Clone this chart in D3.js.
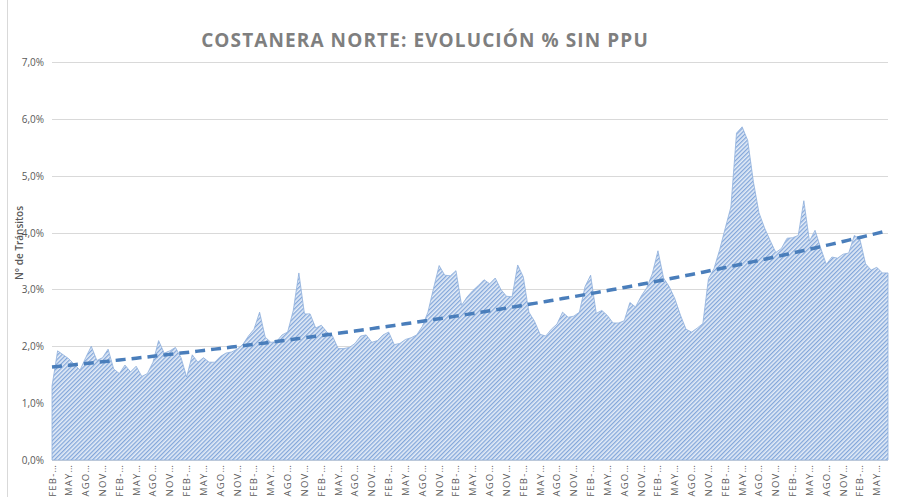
<!DOCTYPE html>
<html>
<head>
<meta charset="utf-8">
<script src="https://cdn.jsdelivr.net/npm/d3@7"></script>
<style>
  body { margin: 0; background: #fff; }
  text { font-family: "Open Sans", "DejaVu Sans", sans-serif; }
</style>
</head>
<body>
<svg id="chart"></svg>
<script>
// monthly share (%) from FEB of the first year on
var values = [
  1.30, 1.92, 1.85, 1.78, 1.68, 1.58, 1.80, 2.00, 1.75, 1.80,
  1.95, 1.60, 1.52, 1.67, 1.55, 1.65, 1.47, 1.52, 1.72, 2.10,
  1.88, 1.92, 1.98, 1.80, 1.46, 1.85, 1.72, 1.80, 1.72, 1.72,
  1.82, 1.88, 1.90, 1.95, 2.03, 2.18, 2.30, 2.60, 2.16, 2.07,
  2.08, 2.20, 2.25, 2.63, 3.29, 2.57, 2.57, 2.32, 2.37, 2.25,
  2.18, 1.96, 1.96, 1.98, 2.05, 2.18, 2.20, 2.07, 2.10, 2.20,
  2.25, 2.03, 2.05, 2.12, 2.15, 2.20, 2.35, 2.60, 3.02, 3.42,
  3.25, 3.24, 3.33, 2.72, 2.87, 2.98, 3.07, 3.17, 3.10, 3.20,
  3.00, 2.88, 2.87, 3.43, 3.22, 2.60, 2.44, 2.21, 2.18, 2.30,
  2.39, 2.60, 2.51, 2.53, 2.60, 3.05, 3.25, 2.58, 2.63, 2.54,
  2.41, 2.41, 2.45, 2.77, 2.69, 2.88, 3.03, 3.28, 3.68, 3.20,
  3.05, 2.84, 2.55, 2.30, 2.25, 2.32, 2.40, 3.19, 3.37, 3.70,
  4.08, 4.45, 5.75, 5.86, 5.62, 4.90, 4.35, 4.08, 3.86, 3.65,
  3.72, 3.90, 3.91, 3.95, 4.56, 3.85, 4.04, 3.73, 3.44, 3.57,
  3.55, 3.62, 3.64, 3.95, 3.88, 3.45, 3.34, 3.39, 3.29, 3.29
];
// every third month gets a (truncated) label
var tickCycle = ["FEB-…", "MAY…", "AGO…", "NOV…"];
var yTicks = [0, 1, 2, 3, 4, 5, 6, 7];

var title = "COSTANERA NORTE: EVOLUCIÓN % SIN PPU";
var yTitle = "N° de Tránsitos";

var width = 898, height = 497;
var svg = d3.select("#chart").attr("width", width).attr("height", height);

var idx = d3.range(values.length);
var x = d3.scalePoint().domain(idx).range([52, 888]);
var y = d3.scaleLinear().domain([0, 7]).range([460, 62]);

// hatch pattern
var defs = svg.append("defs");
var pat = defs.append("pattern")
  .attr("id", "hatch")
  .attr("patternUnits", "userSpaceOnUse")
  .attr("width", 3).attr("height", 3)
  .attr("patternTransform", "rotate(45)");
pat.append("rect").attr("width", 3).attr("height", 3).attr("fill", "#e4ecf7");
pat.append("rect").attr("width", 1.3).attr("height", 3).attr("fill", "#82a6da");

// frame on the left
svg.append("line")
  .attr("x1", 7.5).attr("x2", 7.5).attr("y1", 0).attr("y2", height)
  .attr("stroke", "#d9d9d9");

// grid
svg.append("g")
  .selectAll("line")
  .data(yTicks)
  .enter()
  .append("line")
  .attr("x1", 52).attr("x2", 888)
  .attr("y1", function (d) { return Math.round(y(d)) + 0.5; })
  .attr("y2", function (d) { return Math.round(y(d)) + 0.5; })
  .attr("stroke", "#d9d9d9")
  .attr("stroke-width", 1);

// y labels
svg.append("g")
  .selectAll("text")
  .data(yTicks)
  .enter()
  .append("text")
  .attr("x", 44)
  .attr("y", function (d) { return y(d) + 4; })
  .attr("text-anchor", "end")
  .attr("font-size", 10)
  .attr("fill", "#595959")
  .text(function (d) { return d.toFixed(1).replace(".", ",") + "%"; });

// area
var area = d3.area()
  .x(function (d, i) { return x(i); })
  .y0(y(0))
  .y1(function (d) { return y(d); });

svg.append("path")
  .datum(values)
  .attr("d", area)
  .attr("fill", "url(#hatch)")
  .attr("stroke", "#8fb0dc")
  .attr("stroke-width", 0.8);

// exponential trendline: least squares on ln(value)
var logs = values.map(function (v) { return Math.log(v); });
var mx = d3.mean(idx), ml = d3.mean(logs);
var sxy = d3.sum(idx, function (i) { return (i - mx) * (logs[i] - ml); });
var sxx = d3.sum(idx, function (i) { return (i - mx) * (i - mx); });
var b = sxy / sxx, a = ml - b * mx;

svg.append("path")
  .datum(idx)
  .attr("d", d3.line()
    .x(function (i) { return x(i); })
    .y(function (i) { return y(Math.exp(a + b * i)); }))
  .attr("fill", "none")
  .attr("stroke", "#4a7ebb")
  .attr("stroke-width", 3.5)
  .attr("stroke-dasharray", "10,6");

// x labels
var tickIdx = idx.filter(function (i) { return i % 3 === 0; });
svg.append("g")
  .selectAll("text")
  .data(tickIdx)
  .enter()
  .append("text")
  .attr("transform", function (i) {
    return "translate(" + (x(i) + 3.5) + "," + 464 + ") rotate(-90)";
  })
  .attr("text-anchor", "end")
  .attr("font-size", 9.5)
  .attr("letter-spacing", 1.2)
  .attr("fill", "#595959")
  .text(function (i) { return tickCycle[(i / 3) % 4]; });

// titles
svg.append("text")
  .attr("x", 425)
  .attr("y", 47)
  .attr("text-anchor", "middle")
  .attr("font-size", 19)
  .attr("font-weight", "bold")
  .attr("letter-spacing", 1.1)
  .attr("fill", "#7f7f7f")
  .text(title);

svg.append("text")
  .attr("transform", "translate(23,243) rotate(-90)")
  .attr("text-anchor", "middle")
  .attr("font-size", 10)
  .attr("font-weight", 600)
  .attr("fill", "#595959")
  .text(yTitle);
</script>
</body>
</html>
